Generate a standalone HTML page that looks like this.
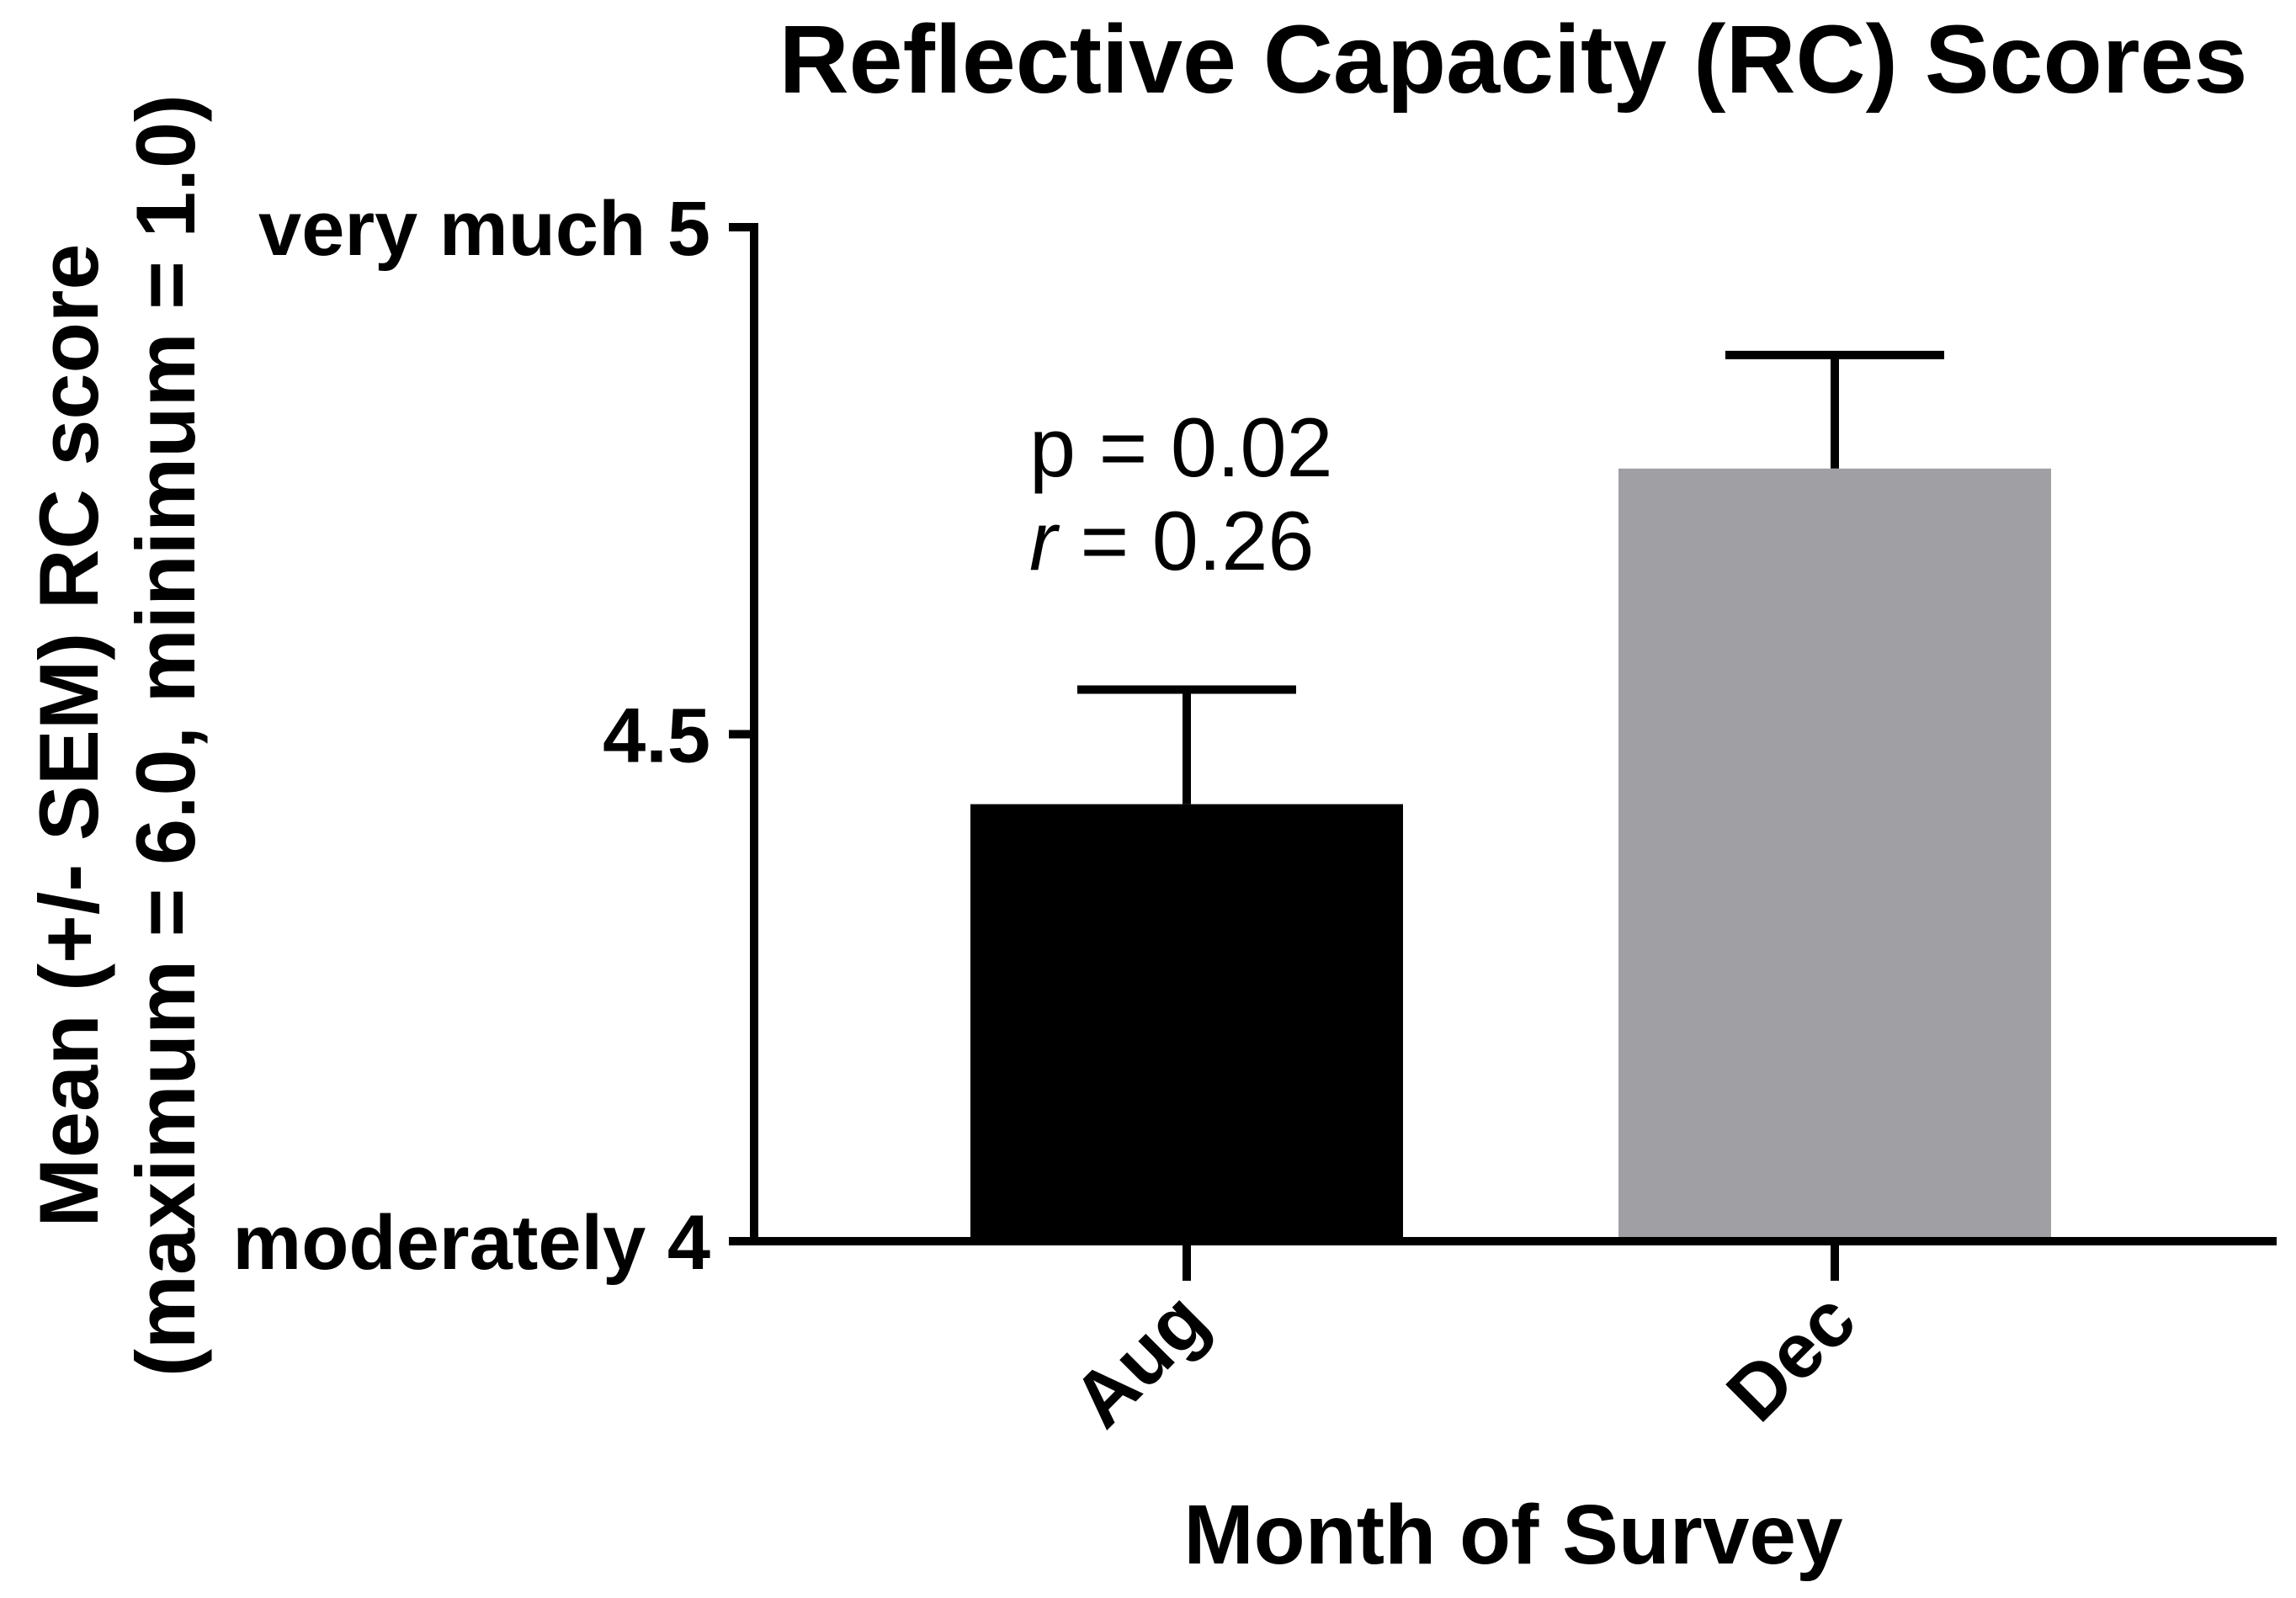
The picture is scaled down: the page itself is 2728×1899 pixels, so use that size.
<!DOCTYPE html>
<html><head><meta charset="utf-8"><style>
html,body{margin:0;padding:0;background:#fff;}
svg{display:block;font-family:"Liberation Sans",Arial,sans-serif;}
</style></head><body>
<svg id="chart" width="2728" height="1899" viewBox="0 0 2728 1899">
<text x="1798" y="110" font-size="115" font-weight="bold" text-anchor="middle">Reflective Capacity (RC) Scores</text>
<g transform="translate(116,874) rotate(-90)">
<text x="0" y="0" font-size="99" font-weight="bold" text-anchor="middle">Mean (+/- SEM) RC score</text>
<text x="0" y="115" font-size="99" font-weight="bold" text-anchor="middle">(maximum = 6.0, minimum = 1.0)</text>
</g>
<g id="plot"></g>
<text x="1223" y="566" font-size="99">p = 0.02</text>
<text x="1223" y="677" font-size="99"><tspan font-style="italic">r</tspan> = 0.26</text>
<text x="1798" y="1858" font-size="100" font-weight="bold" text-anchor="middle">Month of Survey</text>
</svg>
<script>
const categories=["Aug","Dec"];
const means=[4.431,4.762];
const sems=[0.113,0.112];
const tickValues=[4,4.5,5];
const tickLabels=["moderately 4","4.5","very much 5"];
const barColors=["#000000","#a0a0a4"];
const NS="http://www.w3.org/2000/svg";
const g=document.getElementById('plot');
const x0=896,xEnd=2705,yTop=270,yBot=1475;
const yScale=v=>yBot-(v-4)/(5-4)*(yBot-yTop);
const xCenter=i=>1410+i*770;
const barW=514;
function mk(tag,attrs){const e=document.createElementNS(NS,tag);for(const k in attrs)e.setAttribute(k,attrs[k]);g.appendChild(e);return e;}
categories.forEach((c,i)=>{
  const cx=xCenter(i);
  const b=mk('rect',{x:cx-barW/2,y:yScale(means[i]),width:barW,height:yBot-yScale(means[i]),fill:barColors[i]});
  
  
  const et=yScale(means[i]+sems[i]);
  const e1=mk('line',{x1:cx,x2:cx,y1:yScale(means[i]),y2:et,stroke:'#000','stroke-width':10});
  
  
  const e2=mk('line',{x1:cx-130,x2:cx+130,y1:et,y2:et,stroke:'#000','stroke-width':10});
  
  
  const t=mk('line',{x1:cx,x2:cx,y1:yBot,y2:yBot+47,stroke:'#000','stroke-width':10});
  
  
  const l=mk('text',{transform:`translate(${cx+30},${yBot+100}) rotate(-45)`,'font-size':92,'font-weight':'bold','text-anchor':'end'});
  l.textContent=c;
  
  
});
const ya=mk('line',{x1:x0,x2:x0,y1:yTop-5,y2:yBot+5,stroke:'#000','stroke-width':10});


const xa=mk('line',{x1:x0-5,x2:xEnd,y1:yBot,y2:yBot,stroke:'#000','stroke-width':10});


tickValues.forEach((v,i)=>{
  const y=yScale(v);
  const t=mk('line',{x1:x0-30,x2:x0,y1:y,y2:y,stroke:'#000','stroke-width':10});
  
  
  const l=mk('text',{x:x0-52,y:y+33,'font-size':92,'font-weight':'bold','text-anchor':'end'});
  l.textContent=tickLabels[i];
  
  
});
</script>
</body></html>
